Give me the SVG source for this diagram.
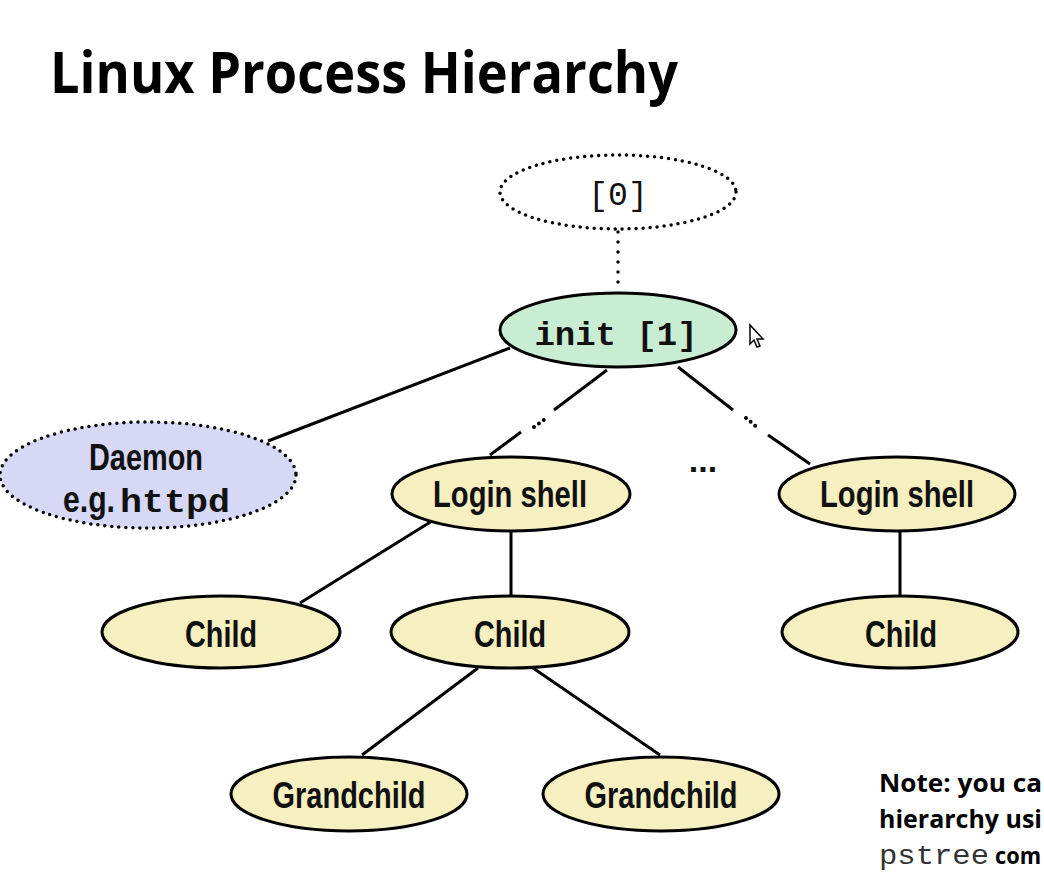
<svg xmlns="http://www.w3.org/2000/svg" width="1044" height="878" viewBox="0 0 1044 878">
<style>
.node{stroke:#000;stroke-width:3}
.y{fill:#f6efbf}
.g{fill:#c9edd2}
.b{fill:#d6d8f6}
.w{fill:#fff}
.dot{stroke-dasharray:0 7;stroke-linecap:round;stroke-width:3.5}
.lbl{font-family:"Liberation Sans",Arial,sans-serif;font-weight:bold;font-size:36px;fill:#111;text-anchor:middle}
.mono{font-family:"Liberation Mono","Courier New",monospace;fill:#111}
.conn line{stroke:#000;stroke-width:3}
</style>
<rect width="1044" height="878" fill="#fff"/>
<text x="50" y="93" font-family="Open Sans, sans-serif" font-weight="bold" font-size="57" textLength="628" lengthAdjust="spacingAndGlyphs" fill="#000">Linux Process Hierarchy</text>

<g id="connectors" class="conn">
<line x1="618" y1="232" x2="618" y2="292" stroke-dasharray="0 10" stroke-linecap="round" style="stroke-width:3.5"/>
<line x1="510" y1="348" x2="268" y2="441"/>
<line x1="607" y1="370" x2="554" y2="410"/>
<line x1="534" y1="427" x2="548" y2="417" stroke-dasharray="0 6" stroke-linecap="round" style="stroke-width:4"/>
<line x1="521" y1="432" x2="490" y2="455"/>
<line x1="678" y1="367" x2="733" y2="410"/>
<line x1="746" y1="418" x2="758" y2="428" stroke-dasharray="0 6" stroke-linecap="round" style="stroke-width:4"/>
<line x1="768" y1="435" x2="810" y2="464"/>
<line x1="432" y1="521" x2="300" y2="603"/>
<line x1="511" y1="531" x2="511" y2="596"/>
<line x1="900" y1="531" x2="900" y2="596"/>
<line x1="478" y1="668" x2="362" y2="755"/>
<line x1="533" y1="668" x2="660" y2="755"/>
</g>

<g id="node-0">
<ellipse class="node w dot" cx="618" cy="192" rx="118" ry="37"/>
<text class="mono" x="618" y="205" font-size="33" text-anchor="middle">[0]</text>
</g>
<g id="node-init">
<ellipse class="node g" cx="618" cy="330" rx="118" ry="37"/>
<text class="mono" x="616" y="345" font-size="34" font-weight="bold" text-anchor="middle">init [1]</text>
</g>
<g id="node-daemon">
<ellipse class="node b dot" cx="148" cy="475" rx="148" ry="53"/>
<text class="lbl" x="146" y="470" textLength="114" lengthAdjust="spacingAndGlyphs">Daemon</text>
<text x="63" y="512" font-family="Liberation Sans, Arial, sans-serif" font-weight="bold" font-size="36" fill="#111" textLength="52" lengthAdjust="spacingAndGlyphs">e.g.</text>
<text class="mono" x="120" y="512" font-size="34" font-weight="bold" textLength="110" lengthAdjust="spacingAndGlyphs">httpd</text>
</g>
<g id="node-login1">
<ellipse class="node y" cx="511" cy="494" rx="119" ry="37"/>
<text class="lbl" x="510" y="507" textLength="154" lengthAdjust="spacingAndGlyphs">Login shell</text>
</g>
<g id="node-login2">
<ellipse class="node y" cx="897" cy="494" rx="118" ry="37"/>
<text class="lbl" x="897" y="507" textLength="154" lengthAdjust="spacingAndGlyphs">Login shell</text>
</g>
<g id="node-child1">
<ellipse class="node y" cx="221" cy="632" rx="119" ry="36"/>
<text class="lbl" x="221" y="647" textLength="72" lengthAdjust="spacingAndGlyphs">Child</text>
</g>
<g id="node-child2">
<ellipse class="node y" cx="510" cy="632" rx="119" ry="36"/>
<text class="lbl" x="510" y="647" textLength="72" lengthAdjust="spacingAndGlyphs">Child</text>
</g>
<g id="node-child3">
<ellipse class="node y" cx="900" cy="632" rx="118" ry="36"/>
<text class="lbl" x="901" y="647" textLength="72" lengthAdjust="spacingAndGlyphs">Child</text>
</g>
<g id="node-grandchild1">
<ellipse class="node y" cx="349" cy="794" rx="118" ry="37"/>
<text class="lbl" x="349" y="808" textLength="153" lengthAdjust="spacingAndGlyphs">Grandchild</text>
</g>
<g id="node-grandchild2">
<ellipse class="node y" cx="661" cy="794" rx="118" ry="37"/>
<text class="lbl" x="661" y="808" textLength="153" lengthAdjust="spacingAndGlyphs">Grandchild</text>
</g>

<text x="703" y="472" font-family="Liberation Sans, Arial, sans-serif" font-weight="bold" font-size="34" fill="#111" text-anchor="middle">...</text>

<polygon points="750,325 750,344 754,340 757,347 760,346 757,339 763,339" fill="#fff" stroke="#000" stroke-width="1.5"/>

<g id="note" font-family="Open Sans, sans-serif" font-weight="bold" font-size="25" fill="#000">
<text x="879" y="792" textLength="163" lengthAdjust="spacingAndGlyphs">Note: you ca</text>
<text x="879" y="828" textLength="163" lengthAdjust="spacingAndGlyphs">hierarchy usi</text>
<text x="879" y="864" font-family="Liberation Mono, Courier New, monospace" font-weight="normal" font-size="28" fill="#333" textLength="110" lengthAdjust="spacingAndGlyphs">pstree</text>
<text x="995" y="864" font-size="24" textLength="46" lengthAdjust="spacingAndGlyphs">com</text>
</g>
</svg>
